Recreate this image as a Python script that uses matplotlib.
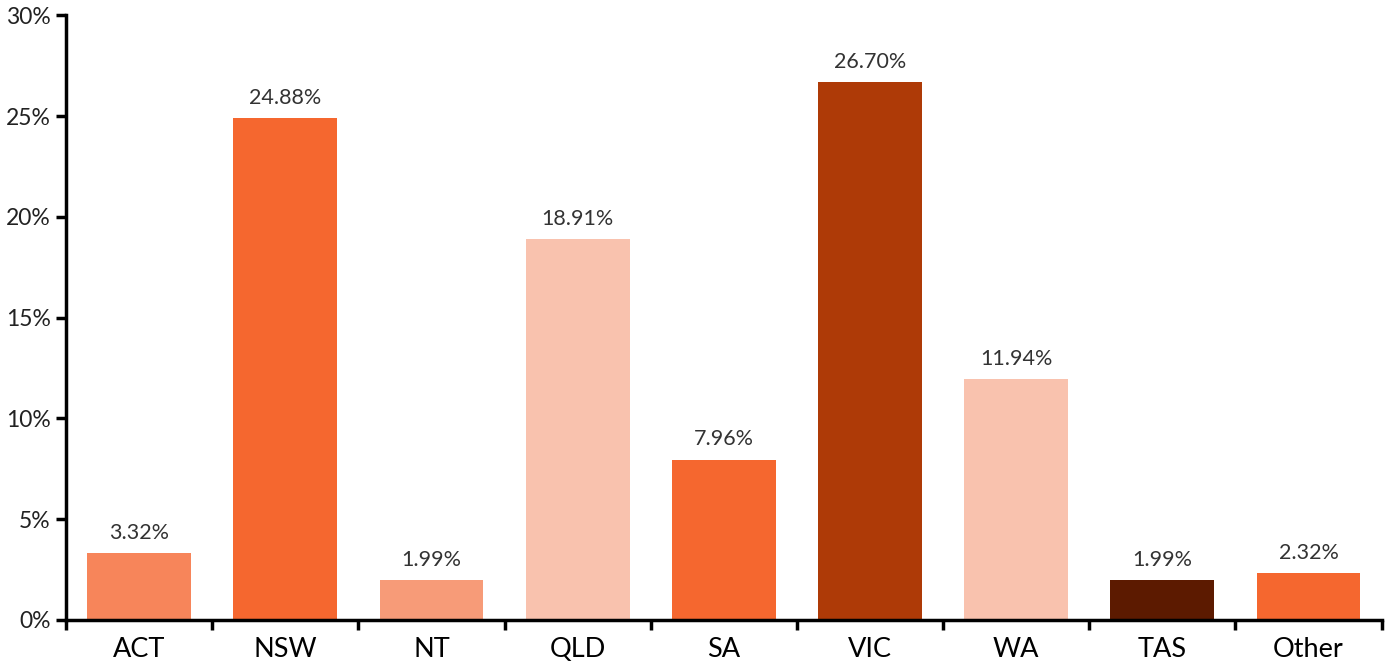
import matplotlib
matplotlib.use("Agg")
import matplotlib.pyplot as plt
import numpy as np

categories = ["ACT", "NSW", "NT", "QLD", "SA", "VIC", "WA", "TAS", "Other"]
values = [3.32, 24.88, 1.99, 18.91, 7.96, 26.70, 11.94, 1.99, 2.32]
colors = ["#F7855A", "#F5672F", "#F79B78", "#F9C2AE", "#F5672F",
          "#AE3A07", "#F9C2AE", "#5C1A00", "#F5672F"]
y_ticks = [0, 5, 10, 15, 20, 25, 30]

plt.rcParams["font.family"] = ["Lato", "DejaVu Sans"]

fig = plt.figure(figsize=(13.9, 6.65), dpi=100)
ax = fig.add_axes([0.0475, 0.0677, 0.9465, 0.9093])

x = np.arange(len(categories))
ax.bar(x, values, width=0.71, color=colors)

# value labels above bars
for xi, v in zip(x, values):
    ax.text(xi, v + 0.5, f"{v:.2f}%", ha="center", va="bottom",
            fontsize=15.5, color="#333333")

ax.set_xlim(-0.5, len(categories) - 0.5)
ax.set_ylim(0, 30)
ax.set_yticks(y_ticks)
ax.set_yticklabels([f"{t}%" for t in y_ticks], fontsize=16.5, color="#222222")

ax.set_xticks(x)
ax.set_xticklabels(categories, fontsize=19.5, color="black")
ax.tick_params(axis="x", length=0, pad=12)
ax.set_xticks(np.arange(-0.5, len(categories), 1.0), minor=True)
ax.tick_params(axis="x", which="minor", length=7, width=2.5, direction="out")
ax.tick_params(axis="y", length=7, width=2.5, direction="out", pad=4)

for s in ["top", "right"]:
    ax.spines[s].set_visible(False)
for s in ["left", "bottom"]:
    ax.spines[s].set_linewidth(2.5)

fig.savefig("out.png", dpi=100)
